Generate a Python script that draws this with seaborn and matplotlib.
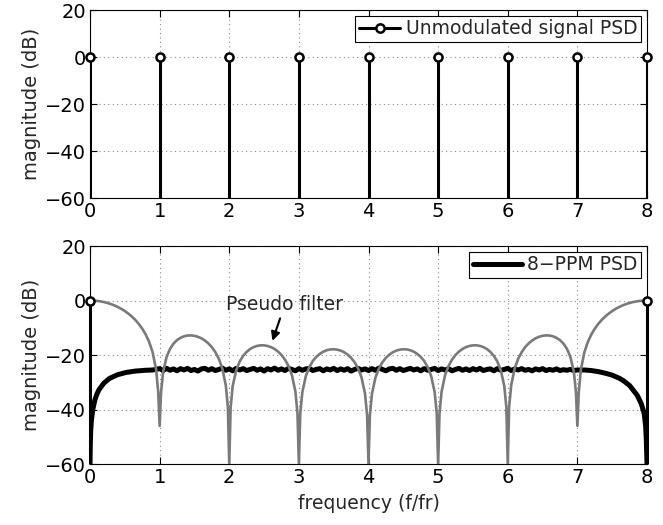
import numpy as np
import pandas as pd
import matplotlib
matplotlib.use("Agg")
import matplotlib.pyplot as plt
from matplotlib.lines import Line2D
import seaborn as sns

# ---------------- data ----------------
stem_freq = [0, 1, 2, 3, 4, 5, 6, 7, 8]
stem_level = [0, 0, 0, 0, 0, 0, 0, 0, 0]

ppm_stem_freq = [0, 8]
ppm_stem_level = [0, 0]

filter_freq = [
    0, 0.05, 0.1, 0.15, 0.2, 0.25, 0.3, 0.35, 0.4, 0.45, 0.5, 0.55, 0.6, 0.65, 0.7, 0.75, 0.8, 0.85, 0.9, 0.95, 0.98,
    1.0, 1.02, 1.05, 1.1, 1.15, 1.2, 1.25, 1.3, 1.35, 1.4, 1.45, 1.5, 1.55, 1.6, 1.65, 1.7, 1.75, 1.8, 1.85, 1.9, 1.95, 1.98,
    2.0, 2.02, 2.05, 2.1, 2.15, 2.2, 2.25, 2.3, 2.35, 2.4, 2.45, 2.5, 2.55, 2.6, 2.65, 2.7, 2.75, 2.8, 2.85, 2.9, 2.95, 2.98,
    3.0, 3.02, 3.05, 3.1, 3.15, 3.2, 3.25, 3.3, 3.35, 3.4, 3.45, 3.5, 3.55, 3.6, 3.65, 3.7, 3.75, 3.8, 3.85, 3.9, 3.95, 3.98,
    4.0, 4.02, 4.05, 4.1, 4.15, 4.2, 4.25, 4.3, 4.35, 4.4, 4.45, 4.5, 4.55, 4.6, 4.65, 4.7, 4.75, 4.8, 4.85, 4.9, 4.95, 4.98,
    5.0, 5.02, 5.05, 5.1, 5.15, 5.2, 5.25, 5.3, 5.35, 5.4, 5.45, 5.5, 5.55, 5.6, 5.65, 5.7, 5.75, 5.8, 5.85, 5.9, 5.95, 5.98,
    6.0, 6.02, 6.05, 6.1, 6.15, 6.2, 6.25, 6.3, 6.35, 6.4, 6.45, 6.5, 6.55, 6.6, 6.65, 6.7, 6.75, 6.8, 6.85, 6.9, 6.95, 6.98,
    7.0, 7.02, 7.05, 7.1, 7.15, 7.2, 7.25, 7.3, 7.35, 7.4, 7.45, 7.5, 7.55, 7.6, 7.65, 7.7, 7.75, 7.8, 7.85, 7.9, 7.95, 8.0]
filter_db = [
    0, -0.035, -0.14, -0.32, -0.57, -0.90, -1.31, -1.80, -2.38, -3.07, -3.87, -4.79, -5.86, -7.11, -8.58, -10.33, -12.48, -15.23, -19.05, -25.4, -33.6,
    -46, -33.9, -26.2, -20.7, -17.72, -15.8, -14.54, -13.7, -13.14, -12.86, -12.80, -12.96, -13.32, -13.88, -14.68, -15.74, -17.12, -18.93, -21.37, -24.9, -31.0, -39.0,
    -60, -39.2, -31.3, -25.6, -22.39, -20.3, -18.84, -17.8, -17.10, -16.66, -16.45, -16.46, -16.68, -17.11, -17.78, -18.72, -19.98, -21.68, -24.00, -27.4, -33.4, -41.4,
    -60, -41.4, -33.6, -27.7, -24.43, -22.2, -20.69, -19.6, -18.78, -18.25, -17.96, -17.89, -18.03, -18.39, -18.98, -19.84, -21.03, -22.65, -24.91, -28.25, -34.2, -42.1,
    -60, -42.1, -34.2, -28.25, -24.91, -22.65, -21.03, -19.84, -18.98, -18.39, -18.03, -17.89, -17.96, -18.25, -18.78, -19.6, -20.69, -22.2, -24.43, -27.7, -33.6, -41.4,
    -60, -41.4, -33.4, -27.4, -24.00, -21.68, -19.98, -18.72, -17.78, -17.11, -16.68, -16.46, -16.45, -16.66, -17.10, -17.8, -18.84, -20.3, -22.39, -25.6, -31.3, -39.2,
    -60, -39.0, -31.0, -24.9, -21.37, -18.93, -17.12, -15.74, -14.68, -13.88, -13.32, -12.96, -12.80, -12.86, -13.14, -13.7, -14.54, -15.8, -17.72, -20.7, -26.2, -33.9,
    -46, -33.6, -25.4, -19.05, -15.23, -12.48, -10.33, -8.58, -7.11, -5.86, -4.79, -3.87, -3.07, -2.38, -1.80, -1.31, -0.90, -0.57, -0.32, -0.14, -0.035, 0]

psd_left_freq = [0, 0.005, 0.01, 0.02, 0.04, 0.07, 0.1, 0.13, 0.2, 0.28, 0.4, 0.52, 0.65, 0.8, 0.9]
psd_left_db = [-60, -52, -48, -44, -40, -36.5, -34.3, -32.7, -30.3, -28.6, -27.2, -26.4, -25.9, -25.6, -25.5]

psd_mid_freq = list(np.round(np.linspace(1.0, 7.0, 121), 3))
psd_mid_db = [-25.0, -25.7, -24.9, -25.6, -25.1, -25.8, -25.0, -25.5, -24.9, -25.7,
              -25.3, -25.9, -25.1, -24.9, -25.6, -25.0, -25.7, -25.3, -24.8, -25.6,
              -25.1, -25.8, -24.9, -25.5, -25.0, -25.7, -25.3, -24.9, -25.6, -25.1,
              -25.9, -25.0, -25.5, -24.8, -25.6, -25.1, -25.7, -24.9, -25.3, -25.8,
              -25.0, -25.6, -25.1, -24.9, -25.7, -25.3, -25.0, -25.8, -25.1, -25.5,
              -24.9, -25.7, -25.1, -25.6, -25.0, -25.9, -25.3, -24.9, -25.5, -25.1,
              -25.7, -25.0, -25.6, -24.8, -25.3, -25.8, -25.1, -24.9, -25.6, -25.0,
              -25.7, -25.3, -24.9, -25.5, -25.1, -25.8, -25.0, -25.6, -25.3, -24.9,
              -25.7, -25.1, -25.5, -25.0, -25.8, -25.3, -24.9, -25.6, -25.1, -25.7,
              -25.0, -25.5, -24.9, -25.7, -25.3, -25.1, -25.8, -25.0, -25.6, -25.3,
              -24.9, -25.7, -25.1, -25.5, -25.0, -25.6, -25.3, -25.8, -25.1, -25.5,
              -25.0, -25.7, -25.3, -25.6, -25.1, -25.7, -25.4, -25.6, -25.3, -25.7, -25.5]

psd_right_freq = [7.1, 7.2, 7.3, 7.42, 7.5, 7.6, 7.66, 7.75, 7.86, 7.92, 7.96, 7.98, 7.99, 8.0]
psd_right_db = [-25.5, -25.7, -26.1, -26.8, -27.4, -28.5, -29.4, -31.2, -34.8, -38.0, -41.5, -46, -51, -60]

x_ticks = [0, 1, 2, 3, 4, 5, 6, 7, 8]
y_ticks = [-60, -40, -20, 0, 20]

# ---------------- style ----------------
sns.set_theme(style="ticks")
plt.rcParams["font.family"] = ["DejaVu Sans"]
FS = 14

fig = plt.figure(figsize=(6.63, 5.25), dpi=100)
ax1 = fig.add_axes([90 / 663, 1 - 198 / 525, 557 / 663, 188 / 525])
ax2 = fig.add_axes([90 / 663, 1 - 464 / 525, 557 / 663, 218 / 525])

GRID = dict(color="#8c8c8c", linestyle=(0, (1, 3)), linewidth=0.8)


def style_axes(ax):
    ax.set_xlim(0, 8)
    ax.set_ylim(-60, 20)
    ax.set_xticks(x_ticks)
    ax.set_yticks(y_ticks)
    ax.grid(True, **GRID)
    ax.tick_params(direction="in", top=True, right=True, length=5, width=0.8,
                   colors="black", labelsize=FS, pad=3)
    for s in ax.spines.values():
        s.set_color("black")
        s.set_linewidth(0.8)
    ax.set_ylabel("magnitude (dB)", fontsize=FS, labelpad=3)
    ax.set_xlabel("")


# ---- top panel ----
ax1.vlines(stem_freq, -60, stem_level, color="black", lw=2.2, zorder=3)
sns.scatterplot(x=stem_freq, y=stem_level, ax=ax1, marker="o", s=34,
                facecolor="white", edgecolor="black", linewidth=1.8, zorder=4,
                clip_on=False, legend=False)
style_axes(ax1)
h1 = Line2D([], [], color="black", lw=2.2, marker="o", markersize=6,
            markerfacecolor="white", markeredgecolor="black", markeredgewidth=1.8)
leg1 = ax1.legend([h1], ["Unmodulated signal PSD"], loc="upper right",
                  fontsize=13.5, frameon=True, fancybox=False, edgecolor="black",
                  framealpha=1, borderpad=0.2, handlelength=2.2, handletextpad=0.3,
                  borderaxespad=0.3)
leg1.get_frame().set_linewidth(0.8)

# ---- bottom panel ----
filt = pd.DataFrame({"f": filter_freq, "db": filter_db})
psd = pd.DataFrame({"f": psd_left_freq + psd_mid_freq + psd_right_freq,
                    "db": psd_left_db + psd_mid_db + psd_right_db})

sns.lineplot(data=psd, x="f", y="db", ax=ax2, color="black", lw=3.6,
             estimator=None, sort=False, zorder=2)
sns.lineplot(data=filt, x="f", y="db", ax=ax2, color="#7a7a7a", lw=1.9,
             estimator=None, sort=False, zorder=3)
ax2.vlines(ppm_stem_freq, -60, ppm_stem_level, color="black", lw=2.2, zorder=4,
           clip_on=False)
sns.scatterplot(x=ppm_stem_freq, y=ppm_stem_level, ax=ax2, marker="o", s=34,
                facecolor="white", edgecolor="black", linewidth=1.8, zorder=5,
                clip_on=False, legend=False)
style_axes(ax2)
ax2.set_xlabel("frequency (f/fr)", fontsize=13.5, labelpad=5)
h2 = Line2D([], [], color="black", lw=3.6)
leg2 = ax2.legend([h2], ["8\u2212PPM PSD"], loc="upper right",
                  fontsize=13.5, frameon=True, fancybox=False, edgecolor="black",
                  framealpha=1, borderpad=0.2, handlelength=2.6, handletextpad=0.3,
                  borderaxespad=0.3)
leg2.get_frame().set_linewidth(0.8)

ax2.annotate("Pseudo filter", xy=(2.62, -14.8), xytext=(2.8, -1.4),
             ha="center", va="center", fontsize=13.5,
             arrowprops=dict(arrowstyle="-|>", color="black", lw=1.5,
                             mutation_scale=13, shrinkA=1, shrinkB=0))

fig.savefig("out.png", dpi=100)
